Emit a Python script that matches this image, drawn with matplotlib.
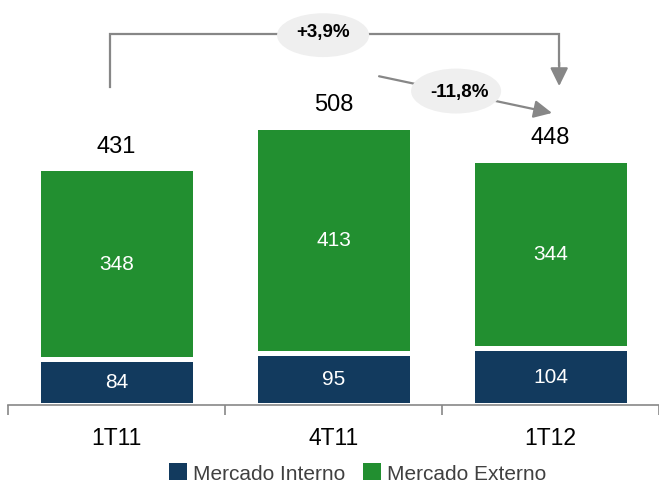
import matplotlib
matplotlib.use("Agg")
import matplotlib.pyplot as plt
from matplotlib.patches import Ellipse
import numpy as np

plt.rcParams['font.family'] = ['Liberation Sans', 'DejaVu Sans']

categories = ["1T11", "4T11", "1T12"]
interno = [84, 95, 104]
externo = [348, 413, 344]
totals = [431, 508, 448]
series_names = ["Mercado Interno", "Mercado Externo"]
growth_labels = ["+3,9%", "-11,8%"]

c_blue = "#123A5E"
c_green = "#228F30"
c_gray = "#878787"

fig = plt.figure(figsize=(6.59, 4.85), dpi=100)
ax = fig.add_axes([8/659, 79/485, 1 - 8/659, 406/485])
x = np.arange(len(categories))
w = 0.72
b1 = ax.bar(x, interno, width=w, color=c_blue, edgecolor="white", linewidth=3.6)
b2 = ax.bar(x, externo, width=w, bottom=interno, color=c_green, edgecolor="white", linewidth=3.6)
ax.bar_label(b1, labels=[str(v) for v in interno], label_type="center", color="white", fontsize=15)
ax.bar_label(b2, labels=[str(v) for v in externo], label_type="center", color="white", fontsize=15)
for xi, t, a, b in zip(x, totals, interno, externo):
    ax.annotate(str(t), (xi, a + b), xytext=(0, 12), textcoords="offset points",
                ha="center", va="baseline", fontsize=17, color="black")

ax.set_xlim(-0.5, 2.5)
ax.set_ylim(0, 741)
for s in ["top", "right", "left"]:
    ax.spines[s].set_visible(False)
ax.spines["bottom"].set_color(c_gray)
ax.spines["bottom"].set_linewidth(1.2)
ax.set_yticks([])
ax.set_xticks([-0.5, 0.5, 1.5, 2.5])
ax.set_xticklabels([])
ax.set_xticks(x, minor=True)
ax.set_xticklabels(categories, minor=True, fontsize=16.5)
ax.tick_params(axis="x", which="major", length=7, width=1.2, color=c_gray)
ax.tick_params(axis="x", which="minor", length=0, pad=15)

# growth annotations
ax.plot([-0.03, -0.03, 2.04, 2.04], [580, 677, 677, 620], color=c_gray, lw=1.6, solid_joinstyle="miter", zorder=3)
ax.annotate("", xy=(2.04, 582), xytext=(2.04, 625),
            arrowprops=dict(arrowstyle="-|>,head_length=0.55,head_width=0.27", mutation_scale=20,
                            color=c_gray, lw=1.6, shrinkA=0, shrinkB=0), zorder=3)
ax.annotate("", xy=(2.007, 533), xytext=(1.21, 600),
            arrowprops=dict(arrowstyle="-|>,head_length=0.55,head_width=0.27", mutation_scale=20,
                            color=c_gray, lw=1.6, shrinkA=0, shrinkB=0), zorder=3)
ax.add_patch(Ellipse((0.952, 675), 0.424, 80, facecolor="#EFEFEF", edgecolor="none", zorder=4))
ax.add_patch(Ellipse((1.565, 573), 0.415, 82, facecolor="#EFEFEF", edgecolor="none", zorder=4))
ax.text(0.952, 681, growth_labels[0], ha="center", va="center", fontsize=13.5, fontweight="bold", zorder=5)
ax.text(1.58, 572, growth_labels[1], ha="center", va="center", fontsize=13.5, fontweight="bold", zorder=5)

leg = fig.legend([b1, b2], series_names, loc="center", bbox_to_anchor=(0.5425, 11/485), ncol=2,
                 frameon=False, fontsize=15, handlelength=0.87, handleheight=0.87,
                 handletextpad=0.29, columnspacing=0.87, borderpad=0, borderaxespad=0)
for t in leg.get_texts():
    t.set_color("#404040")
for h in leg.legend_handles:
    h.set_edgecolor("none")

fig.savefig("out.png", dpi=100)
